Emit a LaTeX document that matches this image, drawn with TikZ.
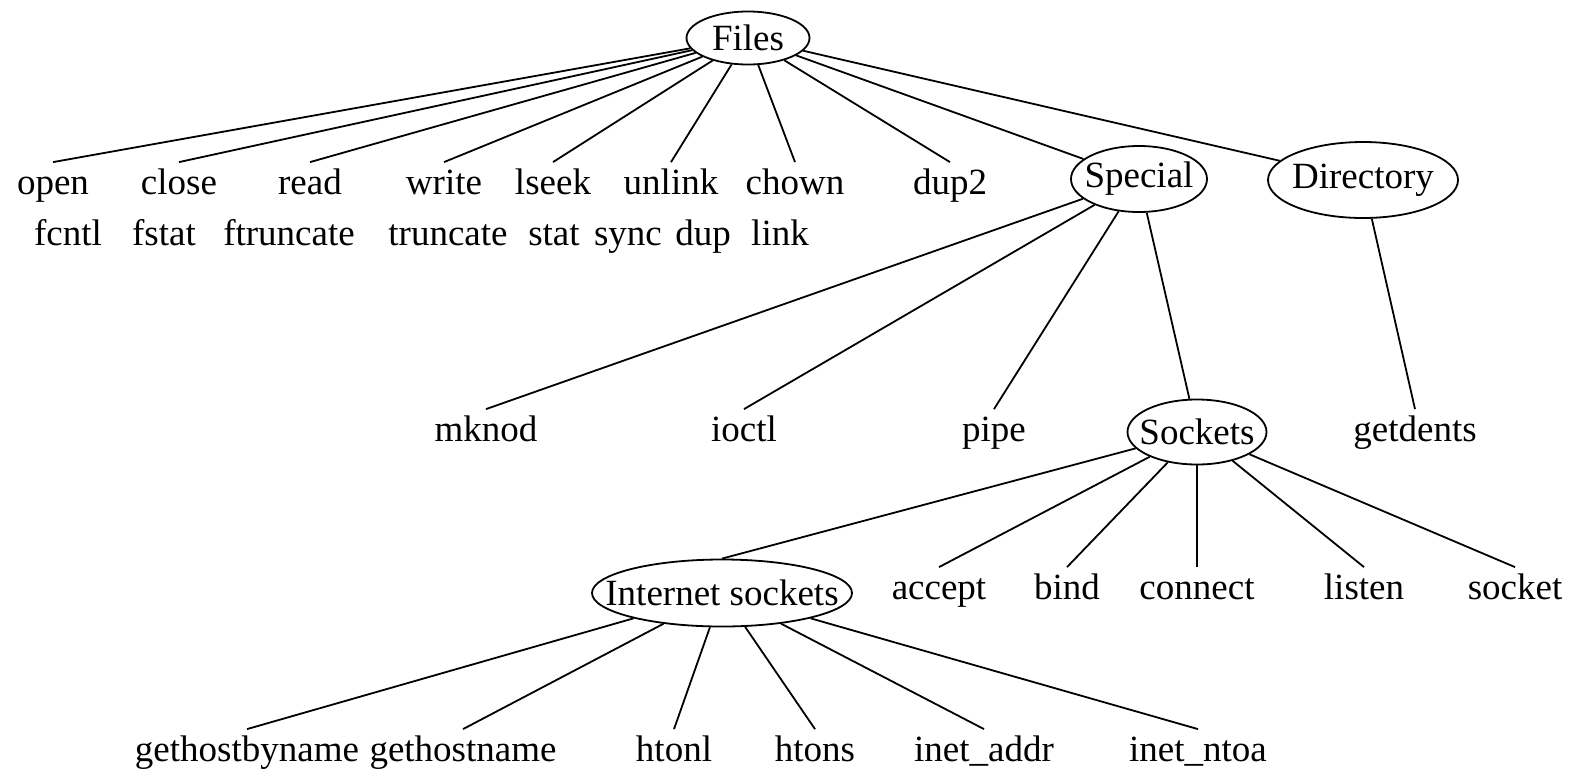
\documentclass[tikz,border=0pt]{standalone}
\usepackage{fontspec}
\setmainfont{Liberation Serif}
\usetikzlibrary{shapes.geometric}

\begin{document}
\begin{tikzpicture}[x=1pt, y=-1pt, line width=1.8pt,
  font=\fontsize{37}{44}\selectfont,
  call/.style={inner xsep=2pt, inner ysep=8pt, text height=23pt, text depth=7pt},
  group/.style={ellipse, draw, inner sep=0pt}]

\useasboundingbox (0,0) rectangle (1579,769);

% file calls
\node[group, minimum width=123pt, minimum height=53pt, label=center:Files] (files) at (748,38) {};

\node[call] (open) at (53,186) {open};
\node[call] (close) at (179,186) {close};
\node[call] (read) at (310,186) {read};
\node[call] (write) at (444,186) {write};
\node[call] (lseek) at (553,186) {lseek};
\node[call] (unlink) at (671,186) {unlink};
\node[call] (chown) at (795,186) {chown};
\node[call] (dup2) at (950,186) {dup2};

\node[call] (fcntl) at (68,237) {fcntl};
\node[call] (fstat) at (164,237) {fstat};
\node[call] (ftruncate) at (289,237) {ftruncate};
\node[call] (truncate) at (448,237) {truncate};
\node[call] (stat) at (554,237) {stat};
\node[call] (sync) at (628,237) {sync};
\node[call] (dup) at (703,237) {dup};
\node[call] (link) at (780,237) {link};

\node[group, minimum width=136pt, minimum height=66pt, label=center:Special] (special) at (1139,179) {};
\node[group, minimum width=190pt, minimum height=76pt, label=center:Directory] (directory) at (1363,180) {};

% special files
\node[call] (mknod) at (486,433) {mknod};
\node[call] (ioctl) at (744,433) {ioctl};
\node[call] (pipe) at (994,433) {pipe};
\node[group, minimum width=139pt, minimum height=65pt, label=center:Sockets] (sockets) at (1197,432) {};
\node[call] (getdents) at (1415,433) {getdents};

% sockets
\node[group, minimum width=260pt, minimum height=67pt, label=center:Internet sockets] (inet) at (722,593) {};
\node[call] (accept) at (939,591) {accept};
\node[call] (bind) at (1067,591) {bind};
\node[call] (connect) at (1197,591) {connect};
\node[call] (listen) at (1364,591) {listen};
\node[call] (socket) at (1515,591) {socket};

\node[call] (gethostbyname) at (247,753) {gethostbyname};
\node[call] (gethostname) at (463,753) {gethostname};
\node[call] (htonl) at (674,753) {htonl};
\node[call] (htons) at (815,753) {htons};
\node[call] (inetaddr) at (984,753) {inet\_addr};
\node[call] (inetntoa) at (1198,753) {inet\_ntoa};

\draw (files) -- (open.north);
\draw (files) -- (close.north);
\draw (files) -- (read.north);
\draw (files) -- (write.north);
\draw (files) -- (lseek.north);
\draw (files) -- (unlink.north);
\draw (files) -- (chown.north);
\draw (files) -- (dup2.north);
\draw (files) -- (special);
\draw (files) -- (directory);

\draw (special) -- (mknod.north);
\draw (special) -- (ioctl.north);
\draw (special) -- (pipe.north);
\draw (special) -- (sockets);
\draw (directory) -- (getdents.north);

\draw (sockets) -- (inet.north);
\draw (sockets) -- (accept.north);
\draw (sockets) -- (bind.north);
\draw (sockets) -- (connect.north);
\draw (sockets) -- (listen.north);
\draw (sockets) -- (socket.north);

\draw (inet) -- (gethostbyname.north);
\draw (inet) -- (gethostname.north);
\draw (inet) -- (htonl.north);
\draw (inet) -- (htons.north);
\draw (inet) -- (inetaddr.north);
\draw (inet) -- (inetntoa.north);
\end{tikzpicture}
\end{document}
